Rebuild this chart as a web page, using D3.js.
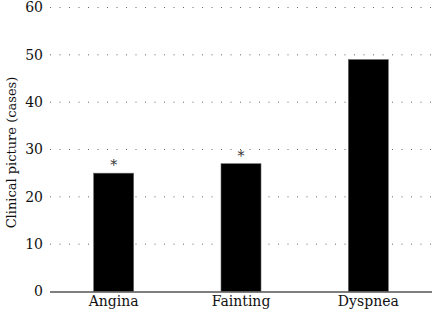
<!DOCTYPE html>
<html>
<head>
<meta charset="utf-8">
<script src="https://cdn.jsdelivr.net/npm/d3@7"></script>
<style>
  body { margin: 0; background: #fff; }
  svg text { font-family: "DejaVu Serif", serif !important; }
</style>
</head>
<body>
<div id="container"></div>
<script>
const categories = ["Angina", "Fainting", "Dyspnea"]
const cases = [25, 27, 49]
const marks = ["*", "*", ""]
const yTicks = [0, 10, 20, 30, 40, 50, 60]

const width = 432
const height = 315
const margin = {top: 7.5, right: 0, bottom: 23, left: 50}

const container = d3.select("#container")
const svg = container.append("svg")
                     .attr("width", width)
                     .attr("height", height)

const data = categories.map((c, i) => ({name: c, value: cases[i], mark: marks[i]}))

// scales
const xScale = d3.scaleBand()
                 .domain(categories)
                 .range([margin.left, width - margin.right])
                 .paddingInner(0.686)
                 .paddingOuter(0.343)
const yScale = d3.scaleLinear()
                 .domain([0, 60])
                 .range([height - margin.bottom - 0.5, margin.top])

// dotted grid lines
svg.selectAll(".grid-line")
   .data(yTicks.filter(d => d > 0))
   .join("line")
   .attr("class", "grid-line")
   .attr("x1", margin.left)
   .attr("x2", width)
   .attr("y1", d => yScale(d))
   .attr("y2", d => yScale(d))
   .attr("stroke", "#666")
   .attr("stroke-width", 1)
   .attr("stroke-dasharray", "1,8.5")

// y axis (labels only)
const yAxis = d3.axisLeft(yScale)
                .tickValues(yTicks)
                .tickSize(0)
                .tickPadding(7)
const yG = svg.append("g")
              .attr("transform", `translate(${margin.left}, 0)`)
              .call(yAxis)
yG.select(".domain").remove()
yG.selectAll("text")
  .attr("font-size", "14px")
  .attr("fill", "#111")

// bars
svg.selectAll(".bar")
   .data(data)
   .join("rect")
   .attr("class", "bar")
   .attr("x", d => xScale(d.name))
   .attr("y", d => yScale(d.value))
   .attr("width", xScale.bandwidth())
   .attr("height", d => yScale(0) - yScale(d.value))
   .attr("fill", "#000")
   .attr("stroke", "#666")
   .attr("stroke-width", 0.6)

// significance marks
svg.selectAll(".mark")
   .data(data.filter(d => d.mark))
   .join("text")
   .attr("class", "mark")
   .attr("x", d => xScale(d.name) + xScale.bandwidth() / 2)
   .attr("y", d => yScale(d.value) - 3)
   .attr("text-anchor", "middle")
   .attr("font-size", "14px")
   .attr("fill", "#333")
   .text(d => d.mark)

// x axis
const xAxis = d3.axisBottom(xScale)
                .tickSize(0)
                .tickPadding(5)
const xG = svg.append("g")
              .attr("transform", `translate(0, ${yScale(0)})`)
              .call(xAxis)
xG.select(".domain")
  .attr("d", `M${margin.left},0.5H${width}`)
  .attr("stroke", "#555")
  .attr("stroke-width", 1.5)
xG.selectAll("text")
  .attr("font-size", "14px")
  .attr("fill", "#111")

// y axis title
svg.append("text")
   .attr("transform", `translate(16, ${(yScale(0) + yScale(60)) / 2 + 3}) rotate(-90)`)
   .attr("text-anchor", "middle")
   .attr("font-size", "13px")
   .attr("fill", "#111")
   .text("Clinical picture (cases)")
</script>
</body>
</html>
